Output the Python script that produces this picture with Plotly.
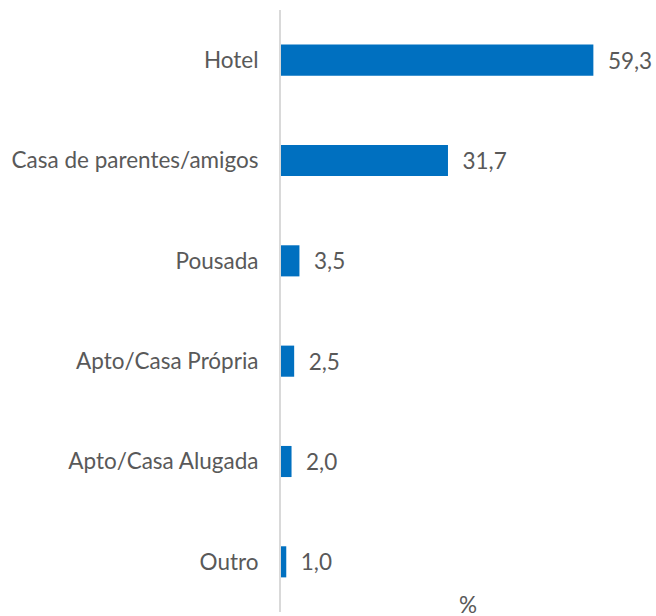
import plotly.graph_objects as go

categories = [
    "Hotel",
    "Casa de parentes/amigos",
    "Pousada",
    "Apto/Casa Própria",
    "Apto/Casa Alugada",
    "Outro",
]
values = [59.3, 31.7, 3.5, 2.5, 2.0, 1.0]
axis_title = "%"

BAR_COLOR = "#0070C0"
TEXT_COLOR = "#595959"
FONT = "Lato"
FONT_SIZE = 22.5

fig = go.Figure(
    go.Bar(
        x=values,
        y=categories,
        orientation="h",
        marker=dict(color=BAR_COLOR, line=dict(width=0)),
        texttemplate="\u00a0\u00a0%{x:.1f}",
        textposition="outside",
        textfont=dict(family=FONT, size=FONT_SIZE, color=TEXT_COLOR),
        cliponaxis=False,
        hoverinfo="skip",
    )
)

fig.update_layout(
    width=656,
    height=616,
    margin=dict(l=281, r=1, t=10, b=4),
    paper_bgcolor="white",
    plot_bgcolor="white",
    separators=",.",
    bargap=0.69,
    showlegend=False,
    font=dict(family=FONT, size=FONT_SIZE, color=TEXT_COLOR),
)

fig.update_xaxes(
    range=[0, 71],
    showgrid=False,
    zeroline=False,
    showticklabels=False,
    showline=False,
    fixedrange=True,
)

fig.update_yaxes(
    categoryorder="array",
    categoryarray=categories[::-1],
    showgrid=False,
    zeroline=False,
    showline=True,
    linecolor="#D9D9D9",
    linewidth=2,
    ticks="",
    ticklabelstandoff=16,
    tickfont=dict(family=FONT, size=FONT_SIZE, color=TEXT_COLOR),
    fixedrange=True,
)

fig.add_annotation(
    text=axis_title,
    xref="paper",
    yref="paper",
    x=0.5,
    y=0,
    yanchor="middle",
    yshift=8,
    showarrow=False,
    font=dict(family=FONT, size=FONT_SIZE, color=TEXT_COLOR),
)

# the page body has a default 8px margin; drop it so the figure fills the window
fig.write_html(
    "out.html",
    config={"displayModeBar": False},
    post_script="document.body.style.margin='0';",
)
